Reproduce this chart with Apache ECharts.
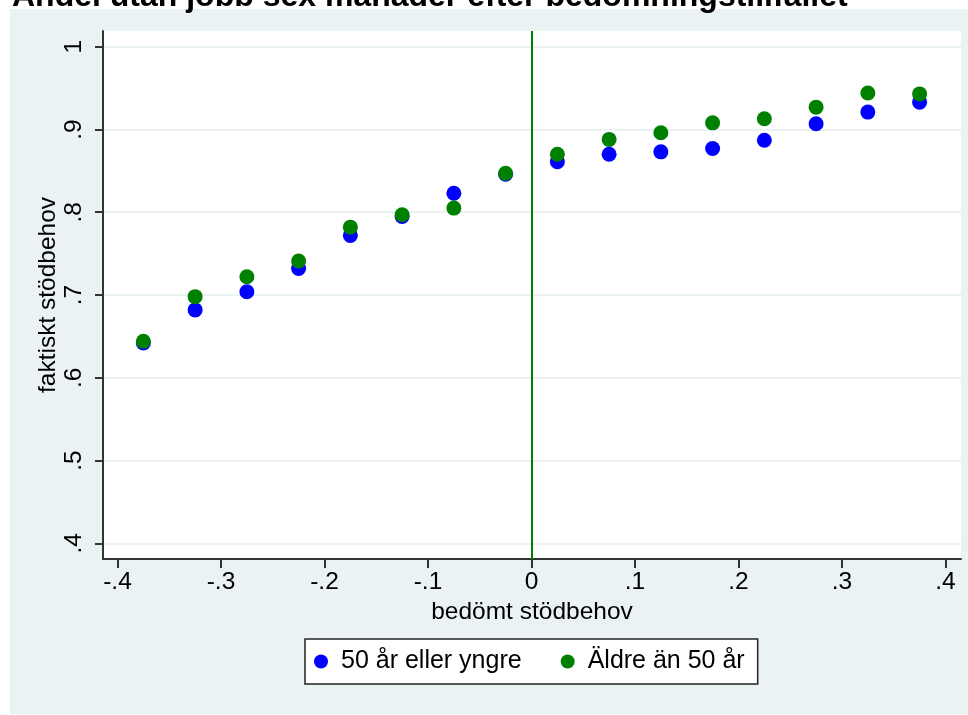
<!DOCTYPE html>
<html>
<head>
<meta charset="utf-8">
<script src="https://cdn.jsdelivr.net/npm/echarts@6/dist/echarts.min.js"></script>
<style>
html,body{margin:0;padding:0;background:#fff;}
#chart{width:968px;height:715px;}
</style>
</head>
<body>
<div id="chart"></div>
<script>
// ---- data ----
var titleText = 'Andel utan jobb sex månader efter bedömningstillfället';
var xName = 'bedömt stödbehov';
var yName = 'faktiskt stödbehov';
var seriesNames = ['50 år eller yngre', 'Äldre än 50 år'];
var binCenters = [-0.375, -0.325, -0.275, -0.225, -0.175, -0.125, -0.075, -0.025,
                  0.025, 0.075, 0.125, 0.175, 0.225, 0.275, 0.325, 0.375];
var youngValues = [0.642, 0.682, 0.704, 0.732, 0.772, 0.795, 0.823, 0.846,
                   0.861, 0.870, 0.873, 0.877, 0.887, 0.907, 0.921, 0.933];
var olderValues = [0.644, 0.698, 0.722, 0.741, 0.782, 0.797, 0.805, 0.847,
                   0.870, 0.888, 0.896, 0.908, 0.913, 0.927, 0.944, 0.943];
var xTicks = [-0.4, -0.3, -0.2, -0.1, 0, 0.1, 0.2, 0.3, 0.4];
var xTickLabels = ['-.4', '-.3', '-.2', '-.1', '0', '.1', '.2', '.3', '.4'];
var yTicks = [0.4, 0.5, 0.6, 0.7, 0.8, 0.9, 1];
var yTickLabels = ['.4', '.5', '.6', '.7', '.8', '.9', '1'];
var cutoff = 0;

function pairs(xs, ys) { return xs.map(function (x, i) { return [x, ys[i]]; }); }
function labelFor(ticks, labels) {
  return function (v) {
    for (var i = 0; i < ticks.length; i++) { if (Math.abs(ticks[i] - v) < 1e-9) return labels[i]; }
    return '';
  };
}

var FONT = '"Liberation Sans", Arial, sans-serif';
var chart = echarts.init(document.getElementById('chart'), null, {renderer: 'canvas'});
chart.setOption({
  animation: false,
  backgroundColor: '#ffffff',
  graphic: [{
    type: 'rect', z: -10, silent: true,
    shape: {x: 10, y: 9, width: 958, height: 705},
    style: {fill: '#eaf2f3'}
  }],
  title: {
    text: titleText, left: 7, top: -24,
    textStyle: {fontFamily: FONT, fontSize: 32, fontWeight: 'bold', color: '#000', lineHeight: 32}
  },
  grid: {left: 103, top: 31, right: 7, bottom: 156, show: true, backgroundColor: '#ffffff', borderWidth: 0},
  legend: {
    left: 305, top: 639,
    padding: [10, 13, 10, 9],
    backgroundColor: '#ffffff', borderColor: '#222', borderWidth: 1.5, borderRadius: 0,
    icon: 'circle', itemWidth: 14, itemHeight: 14, itemGap: 39,
    textStyle: {fontFamily: FONT, fontSize: 25, color: '#000', padding: [0, 0, 0, 8]},
    data: seriesNames
  },
  xAxis: {
    type: 'value', min: -0.414, max: 0.415,
    name: xName, nameLocation: 'middle', nameGap: 40,
    nameTextStyle: {fontFamily: FONT, fontSize: 24.5, color: '#000'},
    axisLine: {show: true, onZero: false, lineStyle: {color: '#333', width: 2}},
    axisTick: {show: true, customValues: xTicks, length: 9, lineStyle: {color: '#333', width: 2}},
    axisLabel: {customValues: xTicks, formatter: labelFor(xTicks, xTickLabels), margin: 11,
      fontFamily: FONT, fontSize: 24.5, color: '#000'},
    splitLine: {show: false}
  },
  yAxis: {
    type: 'value', min: 0.381, max: 1.019,
    name: yName, nameLocation: 'middle', nameGap: 42, nameRotate: 90, nameMoveOverlap: false,
    nameTextStyle: {fontFamily: FONT, fontSize: 24.5, color: '#000'},
    axisLine: {show: true, onZero: false, lineStyle: {color: '#333', width: 2}},
    axisTick: {show: true, customValues: yTicks, length: 8, lineStyle: {color: '#333', width: 2}},
    axisLabel: {customValues: yTicks, formatter: labelFor(yTicks, yTickLabels), rotate: 90, margin: 16,
      fontFamily: FONT, fontSize: 24.5, color: '#000'},
    splitLine: {show: true, lineStyle: {color: '#eaf2f3', width: 2}}
  },
  series: [{
    name: seriesNames[0], type: 'scatter', symbol: 'circle', symbolSize: 15,
    itemStyle: {color: '#0000ff', opacity: 1},
    data: pairs(binCenters, youngValues)
  }, {
    name: seriesNames[1], type: 'scatter', symbol: 'circle', symbolSize: 15,
    itemStyle: {color: '#008000', opacity: 1},
    data: pairs(binCenters, olderValues),
    markLine: {
      silent: true, symbol: ['none', 'none'], label: {show: false},
      lineStyle: {color: '#008000', width: 2, type: 'solid'},
      emphasis: {disabled: true},
      data: [{xAxis: cutoff}]
    }
  }]
});
</script>
</body>
</html>
